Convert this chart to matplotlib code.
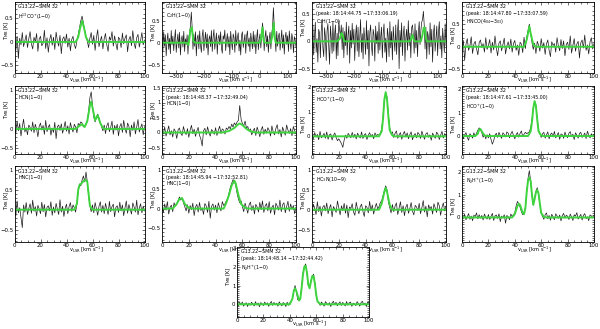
import numpy as np
import matplotlib
matplotlib.use("Agg")
import matplotlib.pyplot as plt
import matplotlib.transforms as mtransforms
from matplotlib.ticker import AutoMinorLocator, FixedLocator

plt.rcParams['font.family'] = ['DejaVu Sans']
plt.rcParams['mathtext.fontset'] = 'dejavusans'

# ---------------- data (black spectra in units of 0.01 K) ----------------
V0, DV = 0, 1            # 0..100 km/s panels
C2H_V0, C2H_DV = -350, 3  # C2H panels

h13cop = [5, -18, 12, -35, 8, -6, 20, -10, 3, 15,
          -12, 7, 22, -4, -15, 10, 0, 18, -20, 6,
          12, -8, -3, 25, -14, 9, -22, 4, 16, -7,
          10, -16, 21, 2, -9, 14, -25, 6, 11, -3,
          17, -11, 8, -19, 5, 12, -6, -14, 3, 15,
          30, 45, 55, 40, 25, 10, 2, -12, 8, 20,
          -5, 14, -18, 9, 26, -10, 3, 12, -15, 7,
          18, -6, -20, 11, 4, 22, -9, 13, -3, -17,
          10, 6, -12, 19, -4, 8, 15, -21, 5, 12,
          -8, 24, -2, -14, 9, 16, -11, 3, 20, -6, 4]

c2h = [12, -20, 25, -8, 18, -30, 5, 22, -15, 10,
       -25, 28, -5, 15, -18, 8, 30, -22, 3, 20,
       -12, 24, -28, 6, 16, -10, 26, -20, 9, -4,
       18, -26, 14, 22, 40, 70, 35, -15, 20, -8,
       25, -30, 10, 18, -14, 27, -6, -22, 15, 30,
       -18, 5, 24, -12, 20, -28, 8, 16, -9, 28,
       -20, 12, 30, -15, 3, 22, -26, 10, 18, -5,
       25, -12, -24, 16, 8, 29, -18, 4, 21, -10,
       14, -27, 26, 2, -16, 20, 12, -22, 28, -6,
       10, 23, -19, 6, -28, 17, 25, -11, 3, 19,
       -24, 15, 27, -8, 11, -20, 22, 5, -14, 26,
       -10, 18, -25, 9, 30, -16, 7, 20, -12, 15,
       45, 25, -18, 12, 28, -9, 16, -22, 8, 24,
       -14, 20, 35, 80, 40, 10, -20, 26, -8, 14,
       22, -17, 5, 29, -12, 18, -26, 10, 24, -4,
       16, -20, 27, 3, -15, 21, 9, -23, 14, 6, -10]

c2h_peak = [-15, 30, -25, 10, 35, -20, 5, -38, 22, 15,
            -30, 18, 40, -12, -28, 25, 8, -35, 20, 32,
            -10, -42, 28, 6, -22, 36, -18, 12, 30, -32,
            15, -26, 38, 20, 10, 30, -15, 25, -30, 18,
            -8, 35, -25, 12, 28, -40, 20, -12, 33, -5,
            22, -35, 10, 30, -18, 26, -28, 8, 40, -20,
            14, -32, 25, 3, -24, 38, -14, 20, -45, 16,
            30, -8, -26, 22, 12, -36, 28, -4, 18, -22,
            35, -16, 8, 26, -30, 14, 32, -20, 6, -38,
            24, 10, -28, 36, -12, 18, -34, 27, 2, -18,
            30, -24, 15, 40, -50, 20, -10, 34, -26, 12,
            28, -36, 6, 22, -16, 38, -8, 15, -30, 25,
            30, 10, -22, 32, -12, 20, -28, 16, 36, -6,
            20, 35, 40, 55, 30, -14, 26, -32, 18, 8,
            -24, 34, -10, 22, -38, 14, 30, -18, 5, 28,
            -26, 16, 36, -14, 10, -30, 24, 2, -20, 32, -8]

hnco = [-10, 14, -30, 5, 18, -8, 2, 22, -15, 6,
        12, -4, -18, 9, 15, -2, 7, -12, 20, -6,
        3, 16, -14, 10, -7, 24, -3, -20, 8, 13,
        -9, 5, 19, -16, 2, 11, -5, 17, -12, 7,
        14, -8, 4, -19, 10, 6, -13, 21, -4, 20,
        35, 50, 30, 10, -6, 8, -15, 12, 4, -10,
        18, -3, 9, -17, 6, 15, -8, -22, 11, 3,
        7, -12, 20, 2, -9, 16, -4, 13, -20, 5,
        10, -6, 24, -14, 3, 18, -10, 6, 12, -25,
        9, 15, -3, 26, -8, 4, -16, 11, 20, -5, 7]

hcn = [8, -12, 20, -5, 14, -18, 6, 25, -8, 3,
       -15, 10, 4, -6, 18, -10, 12, 0, -20, 7,
       15, -3, 9, -14, 22, -7, 5, 11, -16, 2,
       -9, 17, -25, 6, 10, -4, 13, -11, 3, 19,
       -6, 8, -13, 16, 2, -8, 12, 5, -10, 14,
       10, 18, 15, 5, 8, 12, 20, 45, 80, 95,
       60, 30, 18, 30, 38, 28, 15, 6, -5, 10,
       -12, 8, 16, -7, 4, 20, -14, 9, -3, 12,
       -18, 6, 14, -9, 22, 1, -11, 15, 7, -20,
       10, -4, 18, -13, 5, 24, -8, 3, 13, -15, 6]

hcn_peak = [10, -5, 18, -12, 3, 22, -8, 6, -15, 12,
            4, -20, 9, 15, -3, -10, 20, 2, -7, 13,
            -16, 8, 24, -4, 11, -13, 5, 17, -9, -22,
            -45, 6, 14, -8, 19, 0, -12, 10, 4, -6,
            16, -10, 7, 21, -3, 12, 8, -5, 15, 10,
            20, 12, 28, 18, 32, 25, 35, 40, 90, 45,
            30, 22, 38, 15, 20, 5, 12, -8, 6, 14,
            -10, 18, 3, -14, 9, 20, -6, 11, -2, 16,
            7, -12, 22, 2, -8, 14, 26, -5, 10, -15,
            18, 4, -9, 25, 8, -3, 13, -11, 20, 6, -4]

hcop = [5, -10, 15, -3, 8, -14, 20, -6, 2, 12,
        -8, 18, -12, 6, 10, -15, 3, 14, -5, -18,
        -10, -20, -30, -45, -15, 5, -8, 12, 4, -6,
        16, -4, 9, -11, 13, 2, -7, 18, -9, 6,
        11, -13, 4, 15, -2, 8, -10, 14, 3, 7,
        5, 12, 30, 80, 150, 175, 160, 90, 35, 10,
        18, -5, 12, 22, -8, 6, 15, -12, 9, 20,
        -3, 14, -10, 7, 18, -14, 4, 11, -6, 16,
        8, -9, 21, 3, -12, 10, 15, -4, 6, -16,
        13, 2, -8, 17, 9, -13, 5, 20, -7, 11, 3]

hcop_peak = [8, -12, 4, 15, -6, -18, 10, 2, -9, 14,
             -3, 12, 25, 35, 28, 15, -5, 8, -12, 6,
             -8, 10, -15, -35, -20, 4, 12, -6, 16, 2,
             -10, 14, 7, -4, 18, 12, -8, 9, 20, 3,
             -12, 6, 15, -5, 11, 22, -3, 8, 16, 10,
             14, 18, 35, 70, 120, 150, 130, 75, 25, 12,
             -6, 10, 16, -9, 5, 18, -12, 7, 13, -4,
             20, -8, 3, 15, -14, 9, 6, -10, 17, 1,
             -7, 12, 19, -3, 8, -15, 14, 4, -9, 11,
             16, -6, 2, 13, -11, 21, 5, -8, 10, -3, 7]

hnc = [10, -15, 22, -8, 5, -20, -45, 12, -6, 18,
       -12, 3, 15, -9, 24, -4, 8, -16, 11, 2,
       -10, 19, -5, 13, -18, 6, 10, -3, 20, -14,
       7, -8, 16, 1, -12, 25, -6, 9, -17, 4,
       14, -10, 8, 18, -4, 12, 5, -6, 15, 45,
       65, 60, 75, 85, 70, 95, 70, 35, 10, -5,
       12, -8, 18, 3, -14, 9, 20, -6, 11, -10,
       16, 2, -12, 21, -5, 8, 14, -18, 6, 10,
       -7, 19, -3, 12, -15, 5, 22, -9, 13, 1,
       -11, 17, 7, -6, 24, -13, 4, 15, -8, 9, -3]

hnc_peak = [5, -10, 12, -4, 18, -14, 3, 9, -8, 15,
            6, 12, 20, 30, 22, 28, 15, 5, -6, 10,
            -12, 8, -3, 14, -18, 4, 11, -9, 16, -5,
            2, -15, 13, 7, -10, 19, -25, 6, 12, -4,
            9, -11, 15, 3, -6, 18, 8, 12, 20, 25,
            40, 55, 65, 75, 70, 60, 40, 25, 15, 20,
            5, -8, 14, 2, -12, 10, 17, -5, 8, -14,
            11, 4, -9, 16, -3, 20, -10, 7, 13, -6,
            18, -12, 3, 9, -16, 14, 6, -4, 22, -8,
            10, 15, -11, 5, 19, -7, 12, -2, 8, -13, 4]

hc3n = [-8, 14, 3, -12, 20, -5, 9, -16, 6, 11,
        -3, 17, -10, 4, 13, -18, 8, 2, -7, 22,
        5, -13, 10, -2, 16, -9, 12, -20, 7, 3,
        15, -6, -14, 19, 1, -10, 8, 14, -4, -17,
        10, 6, -8, 21, -3, 12, -11, 5, 16, 2,
        8, 18, 22, 35, 48, 60, 50, 20, 6, -8,
        13, -5, 9, 17, -12, 4, 20, -7, 10, -15,
        6, 14, -9, 3, 18, -4, -13, 11, 7, -2,
        16, -10, 5, 23, -6, 9, -18, 12, 2, 8,
        -11, 15, 4, -7, 19, 10, -14, 6, 17, -3, 9]

n2hp = [8, -5, 14, -10, 3, 17, -8, 6, -14, 10,
        4, 20, -6, 12, -3, 9, -11, 15, 2, -7,
        13, -9, 5, 18, -13, 7, 11, -4, 16, -18,
        6, -2, 12, -25, 9, 3, -10, 15, 5, 12,
        20, 50, 70, 60, 45, 25, 12, 15, 45, 110,
        170, 205, 160, 95, 55, 85, 115, 130, 100, 55,
        18, 5, -8, 12, 20, -6, 9, -12, 14, 3,
        -10, 16, 7, -4, 11, -15, 8, 18, -3, 10,
        5, -9, 15, 2, -13, 12, 6, 21, -7, 4,
        14, -11, 9, 17, -5, 3, -14, 11, 7, -2, 10]

n2hp_peak = [5, -8, 10, -3, 12, -10, 4, 8, -12, 6,
             -5, 11, 2, -9, 14, -4, 7, -13, 9, 3,
             -7, 12, -2, 8, -11, 5, 15, -6, 10, -3,
             6, -10, 13, 1, -8, 9, 4, -12, 11, -5,
             8, 14, 30, 70, 100, 65, 25, 20, 35, 95,
             165, 200, 215, 165, 100, 90, 125, 150, 160, 115,
             50, 15, 8, -6, 12, 3, -10, 14, 5, -4,
             9, -12, 7, 16, -3, 11, -8, 4, 13, -6,
             10, 2, -9, 15, -5, 8, 12, -11, 6, 3,
             -7, 14, 4, -10, 9, 16, -3, 7, -12, 11, 2]

# ---------------- green fit curves: (velocity, K) vertices ----------------
fit_h13cop = [(0, 0), (47, 0), (49, 0.1), (50.5, 0.3), (52, 0.45), (53.5, 0.3), (55, 0.1), (57, 0), (100, 0)]
fit_c2h = [(-350, 0), (-262, 0), (-255, -0.05), (-248, 0.3), (-243, 0.35), (-238, 0.05), (-232, 0),
           (0, 0), (5, 0.1), (10, 0.35), (14, 0.05), (18, 0), (40, 0), (45, 0.15), (50, 0.45),
           (54, 0.1), (58, 0), (130, 0)]
fit_c2h_peak = [(-350, 0), (-260, 0), (-250, 0.05), (-245, 0.15), (-240, 0.12), (-235, 0), (0, 0),
                (5, 0.05), (10, 0.12), (14, 0.03), (18, 0), (40, 0), (45, 0.1), (50, 0.25),
                (54, 0.25), (58, 0.05), (62, 0), (130, 0)]
fit_hnco = [(0, 0), (47, 0), (49, 0.15), (51, 0.45), (52, 0.3), (54, 0.05), (56, 0), (100, 0)]
fit_hcn = [(0, 0), (47, 0), (50, 0.08), (52, 0.12), (54, 0.05), (56, 0.2), (58, 0.6), (59, 0.7),
           (60, 0.55), (62, 0.22), (64, 0.35), (66, 0.15), (68, 0.02), (70, 0), (100, 0)]
fit_hcn_peak = [(0, 0), (45, 0), (50, 0.05), (54, 0.15), (57, 0.28), (58, 0.3), (60, 0.25),
                (63, 0.12), (66, 0.04), (70, 0), (100, 0)]
fit_hcop = [(0, 0), (50, 0), (52, 0.2), (53, 0.7), (54, 1.5), (55, 1.8), (56, 1.5), (57, 0.8),
            (58, 0.25), (60, 0.03), (62, 0), (100, 0)]
fit_hcop_peak = [(0, 0), (10, 0), (12, 0.1), (13, 0.28), (14, 0.3), (15, 0.2), (17, 0.02), (19, 0),
                 (50, 0), (52, 0.2), (53, 0.6), (54, 1.2), (55, 1.5), (56, 1.3), (57, 0.7),
                 (58, 0.2), (60, 0.02), (62, 0), (100, 0)]
fit_hnc = [(0, 0), (46, 0), (48, 0.15), (49, 0.5), (50, 0.62), (52, 0.68), (53, 0.72), (55, 0.75),
           (56, 0.7), (57, 0.4), (58, 0.1), (60, 0), (100, 0)]
fit_hnc_peak = [(0, 0), (8, 0), (11, 0.12), (13, 0.25), (15, 0.27), (17, 0.12), (20, 0.02), (22, 0),
                (46, 0), (48, 0.15), (50, 0.35), (52, 0.6), (54, 0.72), (55, 0.65), (57, 0.35),
                (59, 0.12), (62, 0.02), (65, 0), (100, 0)]
fit_hc3n = [(0, 0), (50, 0), (52, 0.15), (54, 0.45), (55, 0.55), (56, 0.45), (58, 0.12), (60, 0), (100, 0)]
fit_n2hp = [(0, 0), (38, 0), (40, 0.15), (42, 0.5), (43, 0.6), (44, 0.55), (46, 0.2), (47, 0.15),
            (48, 0.4), (49, 1.1), (50, 1.6), (51, 1.75), (52, 1.6), (53, 1.0), (54, 0.55), (55, 0.8),
            (56, 1.1), (57, 1.2), (58, 1.05), (59, 0.6), (60, 0.2), (62, 0.03), (64, 0), (100, 0)]
fit_n2hp_peak = [(0, 0), (40, 0), (42, 0.3), (43, 0.7), (44, 0.85), (45, 0.7), (47, 0.2), (48, 0.3),
                 (49, 0.9), (50, 1.6), (51, 2.0), (52, 2.05), (53, 1.7), (54, 1.05), (55, 0.85),
                 (56, 1.2), (57, 1.5), (58, 1.5), (59, 1.1), (60, 0.5), (61, 0.15), (63, 0.02),
                 (65, 0), (100, 0)]

SRC = "G13.22\u2212SMM 32"
X100 = [0, 20, 40, 60, 80, 100]
XC2H = [-300, -200, -100, 0, 100]
panels = [
    # box px (left, top, right, bottom), spectrum, v0, dv, fit, xlim, ylim, yticks (labelled), ylabel y, xticks, text
    ((14.5, 2, 144.5, 72.5), h13cop, V0, DV, fit_h13cop, (0, 100), (-0.65, 0.85), [-0.5, 0, 0.5], 0.25,
     X100, [SRC, "H$^{13}$CO$^{+}$(1\u22120)"]),
    ((162, 2, 296, 72.5), c2h, C2H_V0, C2H_DV, fit_c2h, (-350, 130), (-0.68, 0.93), [-0.5, 0, 0.5], 0.25,
     XC2H, [SRC, "C$_2$H(1\u22120)"]),
    ((312, 2, 446, 72.5), c2h_peak, C2H_V0, C2H_DV, fit_c2h_peak, (-350, 130), (-0.57, 0.72), [-0.5, 0, 0.5], 0.25,
     XC2H, [SRC, "(peak: 18:14:44.75 \u221217:33:06.19)", "C$_2$H(1\u22120)"]),
    ((462, 2, 594, 72.5), hnco, V0, DV, fit_hnco, (0, 100), (-0.57, 0.99), [-0.5, 0, 0.5], 0.25,
     X100, [SRC, "(peak: 18:14:47.80 \u221217:33:07.59)", "HNCO(4$_{04}$\u22123$_{03}$)"]),
    ((14.5, 86, 144.5, 153.5), hcn, V0, DV, fit_hcn, (0, 100), (-0.63, 1.1), [-0.5, 0, 1], 0.5,
     X100, [SRC, "HCN(1\u22120)"]),
    ((162, 86, 296, 153.5), hcn_peak, V0, DV, fit_hcn_peak, (0, 100), (-0.7, 1.55), [-0.5, 0, 0.5, 1, 1.5], 0.75,
     X100, [SRC, "(peak: 18:14:48.37 \u221217:32:49.04)", "HCN(1\u22120)"]),
    ((312, 86, 446, 153.5), hcop, V0, DV, fit_hcop, (0, 100), (-0.7, 2.05), [0, 1, 2], 0.5,
     X100, [SRC, "HCO$^{+}$(1\u22120)"]),
    ((462, 86, 594, 153.5), hcop_peak, V0, DV, fit_hcop_peak, (0, 100), (-0.75, 2.15), [0, 1, 2], 0.5,
     X100, [SRC, "(peak: 18:14:47.61 \u221217:33:45.00)", "HCO$^{+}$(1\u22120)"]),
    ((14.5, 166, 144.5, 241.5), hnc, V0, DV, fit_hnc, (0, 100), (-0.8, 1.1), [-0.5, 0, 0.5, 1], 0.25,
     X100, [SRC, "HNC(1\u22120)"]),
    ((162, 166, 296, 241.5), hnc_peak, V0, DV, fit_hnc_peak, (0, 100), (-0.85, 1.1), [-0.5, 0, 0.5, 1], 0.25,
     X100, [SRC, "(peak: 18:14:45.94 \u221217:32:52.81)", "HNC(1\u22120)"]),
    ((312, 166, 446, 241.5), hc3n, V0, DV, fit_hc3n, (0, 100), (-0.8, 1.1), [-0.5, 0, 0.5, 1], 0.25,
     X100, [SRC, "HC$_3$N(10\u22129)"]),
    ((462, 166, 594, 241.5), n2hp, V0, DV, fit_n2hp, (0, 100), (-1.05, 2.25), [0, 1, 2], 0.5,
     X100, [SRC, "N$_2$H$^{+}$(1\u22120)"]),
    ((237, 247, 369, 316.5), n2hp_peak, V0, DV, fit_n2hp_peak, (0, 100), (-0.65, 3.05), [0, 1, 2, 3], 1.5,
     X100, [SRC, "(peak: 18:14:48.14 \u221217:32:44.42)", "N$_2$H$^{+}$(1\u22120)"]),
]

W, H = 600, 329
fig = plt.figure(figsize=(W / 100, H / 100), dpi=100)
fig.patch.set_facecolor('white')

GREEN = '#3dd43d'
TICK_FS = 3.9
LABEL_FS = 3.7
NOTE_FS = 3.4

def fmt(v):
    s = ('%g' % v)
    return s.replace('-', '\u2212')

for box, spec, v0, dv, fit, xlim, ylim, yt, ylab_y, xt, lines in panels:
    l, t, r, b = box
    ax = fig.add_axes([l / W, 1 - b / H, (r - l) / W, (b - t) / H])
    y = np.array(spec, dtype=float) / 100.0
    v = v0 + dv * np.arange(len(y))
    ax.plot(v, y, color='#1a1a1a', lw=0.5)
    fv = [p[0] for p in fit]
    fy = [p[1] for p in fit]
    ax.plot(fv, fy, color=GREEN, lw=1.4)
    ax.set_xlim(*xlim)
    ax.set_ylim(*ylim)
    ax.xaxis.set_major_locator(FixedLocator(xt))
    ax.yaxis.set_major_locator(FixedLocator(yt))
    ax.set_xticklabels([fmt(x) for x in xt])
    ax.set_yticklabels([fmt(x) for x in yt])
    ax.xaxis.set_minor_locator(AutoMinorLocator(4))
    ax.yaxis.set_minor_locator(FixedLocator(np.arange(-1.5, 3.5, 0.1)))
    ax.tick_params(which='both', direction='in', top=True, right=True,
                   labelsize=TICK_FS, pad=1.0, width=0.5, color='#333333')
    ax.tick_params(which='major', length=2.5)
    ax.tick_params(which='minor', length=1.3)
    for sp in ax.spines.values():
        sp.set_linewidth(0.6)
    ax.set_ylabel('T$_{\\rm MB}$ [K]', fontsize=LABEL_FS, va='center')
    tr = mtransforms.blended_transform_factory(ax.transAxes, ax.transData)
    ax.yaxis.set_label_coords(-0.06, ylab_y, transform=tr)
    ax.set_xlabel('v$_{\\rm LSR}$ [km s$^{-1}$]', fontsize=LABEL_FS, va='center')
    ax.xaxis.set_label_coords(0.55, -0.108)
    ax.text(0.03, 0.965, '\n'.join(lines), transform=ax.transAxes, va='top', ha='left',
            fontsize=NOTE_FS, linespacing=1.3)

fig.savefig('out.png', dpi=100)
